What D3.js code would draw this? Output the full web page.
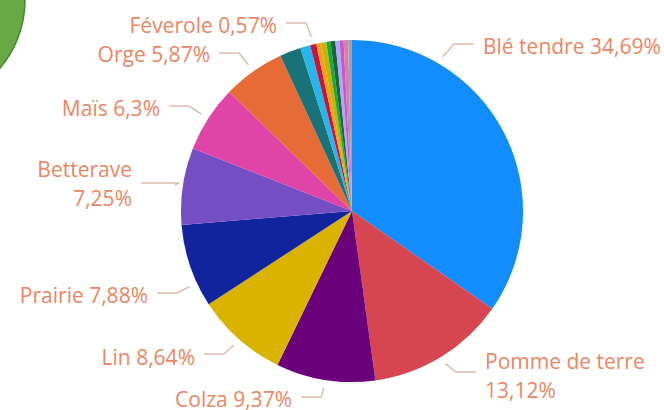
<!DOCTYPE html>
<html>
<head>
<meta charset="utf-8">
<script src="https://cdn.jsdelivr.net/npm/d3@7/dist/d3.min.js"></script>
<style>
  html, body { margin: 0; padding: 0; background: #ffffff; }
  svg { display: block; }
</style>
</head>
<body>
<svg id="chart" width="664" height="410"></svg>
<script>
// ---- Data ----
const categories = ["Blé tendre", "Pomme de terre", "Colza", "Lin", "Prairie", "Betterave", "Maïs", "Orge",
  "Autre 1", "Autre 2", "Féverole", "Autre 3", "Autre 4", "Autre 5", "Autre 6", "Autre 7", "Autre 8", "Autre 9", "Autre 10"];
const values = [34.69, 13.12, 9.37, 8.64, 7.88, 7.25, 6.3, 5.87,
  2.0, 0.95, 0.57, 0.45, 0.5, 0.4, 0.45, 0.4, 0.38, 0.42, 0.36];
const colors = ["#118DFF", "#D64550", "#6B007B", "#D9B300", "#12239E", "#744EC2", "#E044A7", "#E66C37",
  "#197278", "#26B5EC", "#C8143C", "#F0A21E", "#C9B200", "#1AAB40", "#14683A", "#B5A1FF", "#BE5DC9", "#E07AA8", "#A8A0A0"];
const labelled = ["Blé tendre", "Pomme de terre", "Colza", "Lin", "Prairie", "Betterave", "Maïs", "Orge", "Féverole"];

// ---- Label layout (positions only) ----
const labelLayout = {
  "Blé tendre":     { angle: 30.5, ly: 44,  tx: 483, lines: 1, dy: [2] },
  "Pomme de terre": { ly: 372, tx: 485, lines: 2, dy: [-11, 18] },
  "Colza":          { ly: 397, tx: 292, lines: 1, dy: [2] },
  "Lin":            { ly: 354, tx: 195, lines: 1, dy: [3] },
  "Prairie":        { angle: 245, ly: 293, tx: 148, lines: 1, dy: [2] },
  "Betterave":      { ly: 183, tx: 132, lines: 2, dy: [-14, 15], seg: 38 },
  "Maïs":           { ly: 106, tx: 160, lines: 1, dy: [2] },
  "Orge":           { ly: 53,  tx: 210, lines: 1, dy: [1.5] },
  "Féverole":       { ly: 23,  tx: 277, lines: 1, dy: [2] }
};

const fmt = v => String(v).replace(".", ",") + "%";

const svg = d3.select("#chart");

// decorative green shape in the corner
svg.append("circle")
  .attr("cx", -80).attr("cy", 0).attr("r", 105)
  .attr("fill", "#68A845").attr("stroke", "#4B8530").attr("stroke-width", 1.5);

const cx = 352, cy = 211, R = 171;
const g = svg.append("g").attr("transform", `translate(${cx},${cy})`);

const data = categories.map((c, i) => ({ name: c, value: values[i], color: colors[i] }));
const pie = d3.pie().sort(null).value(d => d.value);
const arcs = pie(data);
const arc = d3.arc().innerRadius(0).outerRadius(R);

g.selectAll("path.slice")
  .data(arcs)
  .enter().append("path")
  .attr("class", "slice")
  .attr("d", arc)
  .attr("fill", d => d.data.color);

const polar = (a, r) => [r * Math.sin(a), -r * Math.cos(a)];
const fs = 21;
const textColor = "#EA8664";
const lineColor = "#DDBBAC";

arcs.filter(d => labelled.includes(d.data.name)).forEach(d => {
  const L = labelLayout[d.data.name];
  const a = L.angle !== undefined ? L.angle * Math.PI / 180 : (d.startAngle + d.endAngle) / 2;
  const side = Math.sin(a) >= 0 ? 1 : -1;
  const p0 = polar(a, R + 8);
  const ly = L.ly - cy;
  const tx = L.tx - cx;
  const endX = tx - side * 9;
  const seg = L.seg || 20;
  const elbowX = endX - side * seg;
  g.append("path")
    .attr("d", d3.line()([p0, [elbowX, ly], [endX, ly]]))
    .attr("fill", "none")
    .attr("stroke", lineColor)
    .attr("stroke-width", 1.5);

  let lines;
  if (L.lines === 2) lines = [d.data.name, fmt(d.data.value)];
  else lines = [d.data.name + " " + fmt(d.data.value)];

  const t = g.append("text")
    .attr("text-anchor", side > 0 ? "start" : "end")
    .attr("font-family", "'Segoe UI', 'Open Sans', sans-serif")
    .attr("font-size", fs)
    .attr("fill", textColor);
  lines.forEach((s, i) => {
    t.append("tspan")
      .attr("x", tx)
      .attr("y", ly + L.dy[i] + fs * 0.36)
      .text(s);
  });
});
</script>
</body>
</html>
